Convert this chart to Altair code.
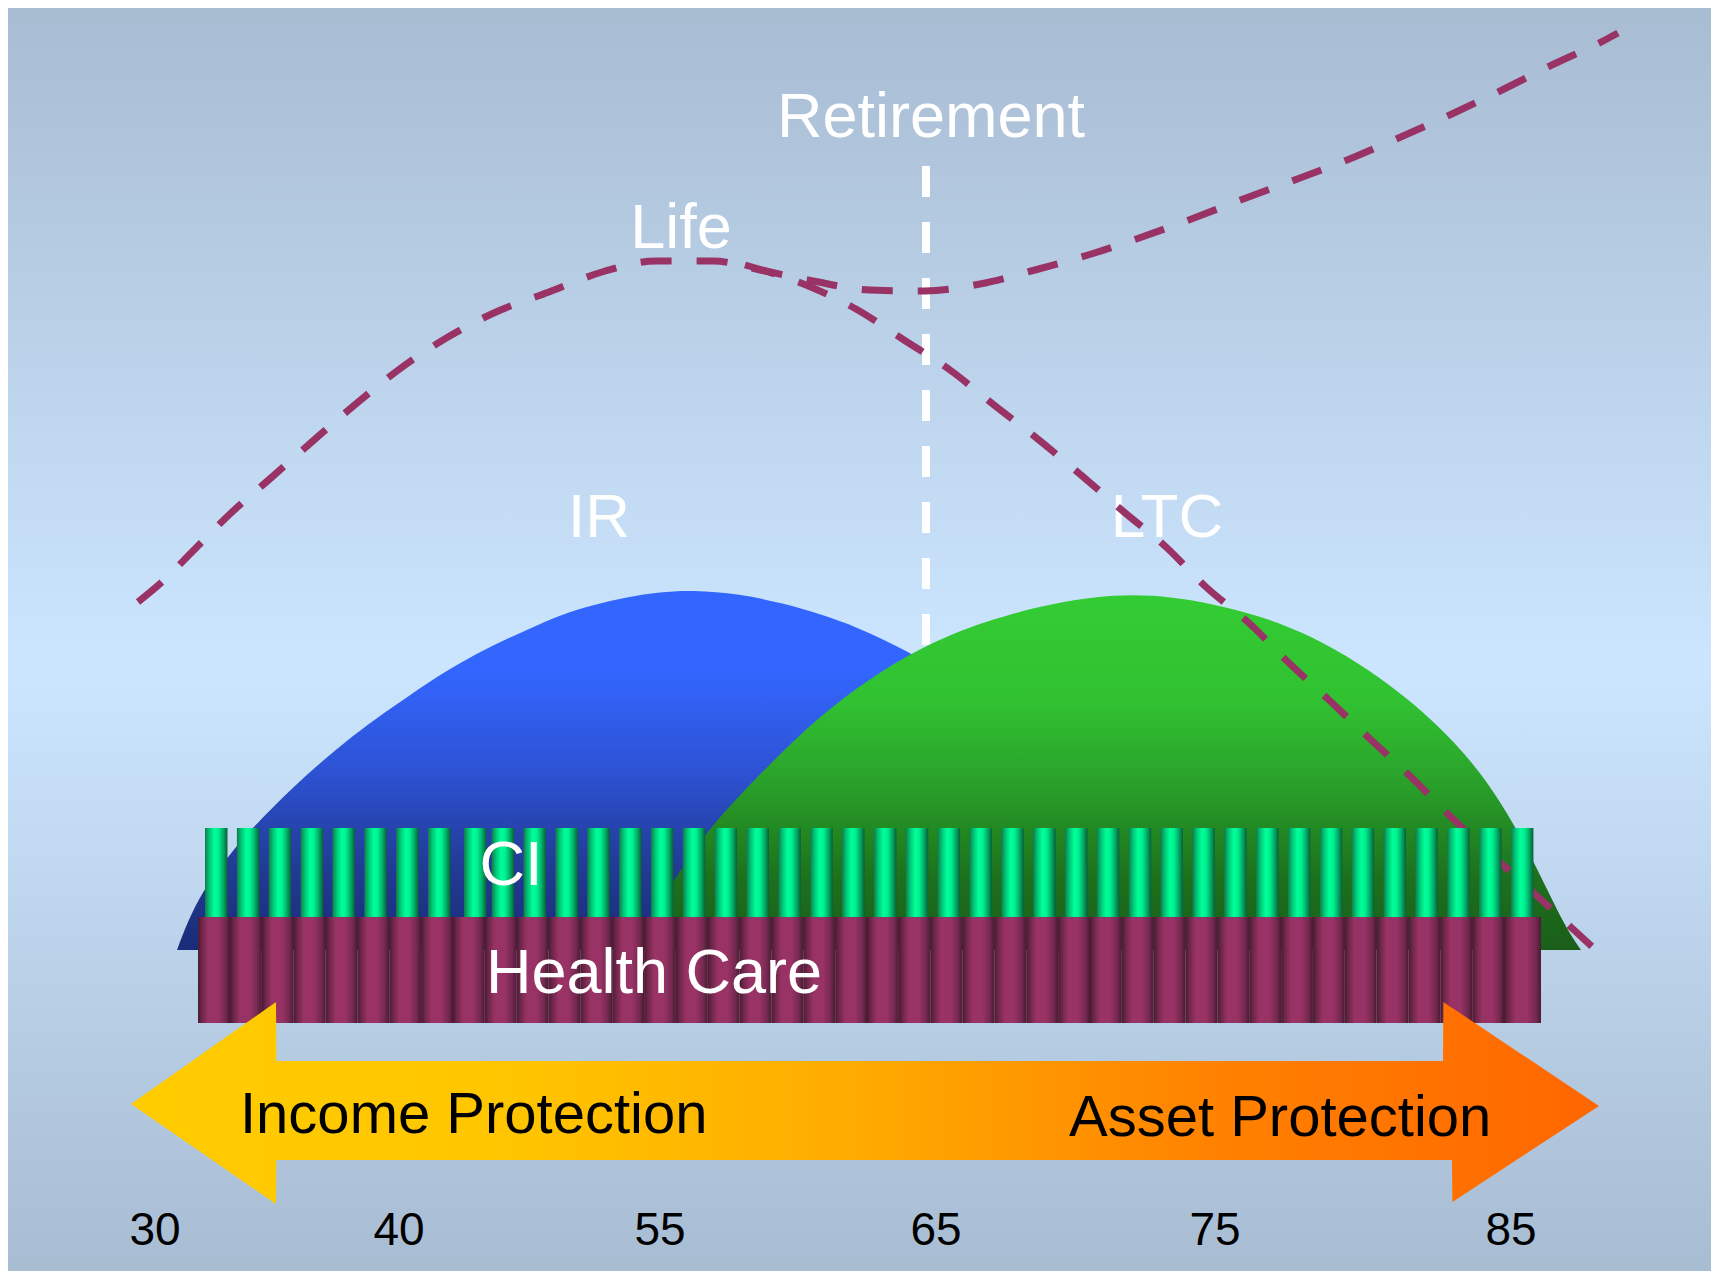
import altair as alt
import pandas as pd

# ---------------- canvas (diagram units = reference pixel grid) ----------------
W, H = 1703, 1263
X0, X1 = 8, 8 + W
Y0, Y1 = 8, 8 + H
FONT = "Liberation Sans"

# ---------------- data ----------------
# IR hill outline (top edge) and baseline
ir_x = [177, 187, 203, 227, 250, 293, 327, 360, 393, 427, 460, 493, 527, 560, 593, 627, 660, 692, 740, 782, 820, 857, 906, 960, 1020, 1080, 1130, 1160]
ir_y = [950, 923, 890, 858, 830, 787, 757, 730, 707, 683, 663, 645, 630, 615, 605, 597, 592, 590, 594, 603, 614, 627, 650, 682, 728, 795, 875, 950]
hill_base = 950

# LTC hill outline
ltc_x = [640, 652, 672, 707, 757, 807, 857, 906, 945, 989, 1056, 1132, 1212, 1302, 1391, 1458, 1503, 1538, 1565, 1581]
ltc_y = [950, 917, 883, 830, 777, 727, 687, 656, 637, 620, 602, 592, 602, 628, 683, 743, 803, 870, 927, 950]

# dashed "Life" curve
life_x = [138, 162, 191, 231, 272, 314, 357, 401, 448, 496, 549, 602, 656, 713, 760, 813, 870, 925, 980, 1035, 1088, 1142, 1194, 1246, 1300, 1352, 1403, 1454, 1504, 1554, 1605, 1618]
life_y = [602, 582, 553, 513, 477, 440, 403, 368, 337, 312, 292, 272, 261, 261, 270, 281, 290, 291, 284, 270, 255, 237, 218, 198, 178, 158, 136, 113, 89, 64, 40, 33]

# dashed descending (LTC need) curve
need_x = [745, 806, 856, 904, 950, 994, 1039, 1081, 1124, 1166, 1206, 1249, 1288, 1329, 1369, 1411, 1451, 1494, 1534, 1574, 1600]
need_y = [265, 285, 309, 340, 370, 405, 440, 475, 512, 547, 587, 623, 662, 700, 738, 777, 817, 857, 893, 930, 954]

# retirement marker
retire_x = 926
retire_top, retire_bottom = 166, 700

# CI stripes (left edges), stripe width and vertical extent
ci_left = [205.0, 236.9, 268.7, 300.6, 332.4, 364.3, 396.1, 428.0, 464.0, 491.7,
           523.5, 555.4, 587.2, 619.1, 650.9, 682.8, 714.6, 746.5, 778.3, 810.2,
           842.0, 873.9, 905.7, 937.6, 969.4, 1001.3, 1033.1, 1065.0, 1096.8, 1128.7,
           1160.5, 1192.4, 1224.2, 1256.1, 1287.9, 1319.8, 1351.6, 1383.5, 1415.3, 1447.2,
           1479.0, 1510.9]
ci_width = 22.5
ci_top, ci_bottom = 828, 917

# Health Care bar segment edges
hc_edges = [198, 230.0, 261.9, 293.7, 325.6, 357.4, 389.3, 421.1, 453.0, 484.8, 516.7,
            548.5, 580.4, 612.2, 644.1, 675.9, 707.8, 739.6, 771.5, 803.3, 835.2,
            867.0, 898.9, 930.7, 962.6, 994.4, 1026.3, 1058.1, 1090.0, 1121.8, 1153.7,
            1185.5, 1217.4, 1249.2, 1281.1, 1312.9, 1344.8, 1376.6, 1408.5, 1440.3, 1472.2,
            1504.0, 1541]
hc_top, hc_bottom = 917, 1023

# double arrow outline (x, top, bottom), left tip to right tip
arrow_x = [131, 276, 276.4, 1443, 1443.4, 1452, 1452.4, 1599]
arrow_top = [1104, 1002, 1061, 1061, 1002, 1008, 1008, 1106]
arrow_bottom = [1104, 1204, 1160, 1160, 1160, 1160, 1202, 1106]

# labels
white_labels = ["Retirement", "Life", "CI", "Health Care"]
white_x = [931, 681, 511, 654]
white_y = [137, 248, 885, 993]
hill_labels = ["IR", "LTC"]
hill_label_x = [599, 1167]
hill_label_y = [537, 537]
band_labels = ["Income Protection", "Asset Protection"]
band_x = [240, 1069]
band_y = [1133, 1136]
tick_labels = ["30", "40", "55", "65", "75", "85"]
tick_x = [155, 399, 660, 936, 1215, 1511]
tick_y = 1245

# colours
bg_colors = ["#a8bcd2", "#cce6ff", "#a8bcd2"]
ir_colors = ["#3366ff", "#3366ff", "#2d52d4", "#213a94", "#1a2c78"]
ltc_colors = ["#33cc33", "#31c131", "#2ba52b", "#238b23", "#1d701d", "#1a5e1a"]
ci_colors = ["#127a4a", "#00c878", "#00ff99", "#00f090", "#00b06a", "#0a5e35"]
hc_colors = ["#4a1a33", "#6e2648", "#993366", "#993366", "#74294f", "#4a1a33"]
arrow_colors = ["#ffcc00", "#ffc600", "#ffaa00", "#ff8000", "#ff6600"]
dash_color = "#993366"


# ---------------- helpers ----------------
def grad(colors, offsets, horizontal=False):
    return alt.LinearGradient(
        gradient="linear",
        stops=[alt.GradientStop(offset=o, color=c) for o, c in zip(offsets, colors)],
        x1=0, y1=0,
        x2=1 if horizontal else 0,
        y2=0 if horizontal else 1,
    )


xs = alt.Scale(domain=[X0, X1], nice=False, zero=False)
ys = alt.Scale(domain=[Y0, Y1], reverse=True, nice=False, zero=False)


def X(f):
    return alt.X(f, type="quantitative", scale=xs, axis=None)


def Y(f):
    return alt.Y(f, type="quantitative", scale=ys, axis=None, stack=False)


# ---------------- layers ----------------
bg = alt.Chart(pd.DataFrame({"x": [X0], "x2": [X1], "y": [Y0], "y2": [Y1]})).mark_rect(
    fill=grad(bg_colors, [0, 0.52, 1])
).encode(x=X("x"), x2="x2", y=Y("y"), y2="y2")

retire = alt.Chart(pd.DataFrame({"x": [retire_x], "y": [retire_top], "y2": [retire_bottom]})).mark_rule(
    color="white", strokeWidth=8, strokeDash=[31, 25]
).encode(x=X("x"), y=Y("y"), y2="y2")

ir_df = pd.DataFrame({"x": ir_x, "y": ir_y, "base": hill_base})
ir = alt.Chart(ir_df).mark_area(
    fill=grad(ir_colors, [0, 0.22, 0.5, 0.78, 1]), interpolate="basis"
).encode(x=X("x"), y=Y("y"), y2="base")

ltc_df = pd.DataFrame({"x": ltc_x, "y": ltc_y, "base": hill_base})
ltc = alt.Chart(ltc_df).mark_area(
    fill=grad(ltc_colors, [0, 0.3, 0.5, 0.65, 0.8, 1]), interpolate="basis"
).encode(x=X("x"), y=Y("y"), y2="base")

hill_txt = alt.Chart(pd.DataFrame({"x": hill_label_x, "y": hill_label_y, "t": hill_labels})).mark_text(
    font=FONT, fontSize=62, color="white", align="center", baseline="alphabetic"
).encode(x=X("x"), y=Y("y"), text="t:N")

curves_df = pd.concat([
    pd.DataFrame({"x": life_x, "y": life_y, "curve": "life", "i": range(len(life_x))}),
    pd.DataFrame({"x": need_x, "y": need_y, "curve": "need", "i": range(len(need_x))}),
])
curves = alt.Chart(curves_df).mark_line(
    color=dash_color, strokeWidth=7, strokeDash=[31, 25], interpolate="monotone"
).encode(x=X("x"), y=Y("y"), detail="curve:N", order="i:Q")

ci_df = pd.DataFrame({"x": ci_left, "x2": [v + ci_width for v in ci_left], "y": ci_top, "y2": ci_bottom})
ci = alt.Chart(ci_df).mark_rect(
    fill=grad(ci_colors, [0, 0.2, 0.42, 0.6, 0.8, 1], horizontal=True)
).encode(x=X("x"), x2="x2", y=Y("y"), y2="y2")

hc_df = pd.DataFrame({"x": hc_edges[:-1], "x2": hc_edges[1:], "y": hc_top, "y2": hc_bottom})
hc = alt.Chart(hc_df).mark_rect(
    fill=grad(hc_colors, [0, 0.12, 0.32, 0.62, 0.86, 1], horizontal=True)
).encode(x=X("x"), x2="x2", y=Y("y"), y2="y2")

arrow_df = pd.DataFrame({"x": arrow_x, "top": arrow_top, "bot": arrow_bottom})
arrow = alt.Chart(arrow_df).mark_area(
    fill=grad(arrow_colors, [0, 0.25, 0.5, 0.75, 1], horizontal=True), interpolate="linear"
).encode(x=X("x"), y=Y("top"), y2="bot")

white_txt = alt.Chart(pd.DataFrame({"x": white_x, "y": white_y, "t": white_labels})).mark_text(
    font=FONT, fontSize=63, color="white", align="center", baseline="alphabetic"
).encode(x=X("x"), y=Y("y"), text="t:N")

band_txt = alt.Chart(pd.DataFrame({"x": band_x, "y": band_y, "t": band_labels})).mark_text(
    font=FONT, fontSize=58, color="black", align="left", baseline="alphabetic"
).encode(x=X("x"), y=Y("y"), text="t:N")

tick_txt = alt.Chart(pd.DataFrame({"x": tick_x, "y": tick_y, "t": tick_labels})).mark_text(
    font=FONT, fontSize=46, color="black", align="center", baseline="alphabetic"
).encode(x=X("x"), y=Y("y"), text="t:N")

chart = alt.layer(
    bg, retire, ir, ltc, hill_txt, curves, ci, hc, arrow, white_txt, band_txt, tick_txt
).properties(
    width=W, height=H, padding=0, autosize=alt.AutoSizeParams(type="none")
).configure_view(strokeWidth=0).configure(background="#b6cbe2")

chart.save("out.html", embed_options={"renderer": "svg", "actions": False})
